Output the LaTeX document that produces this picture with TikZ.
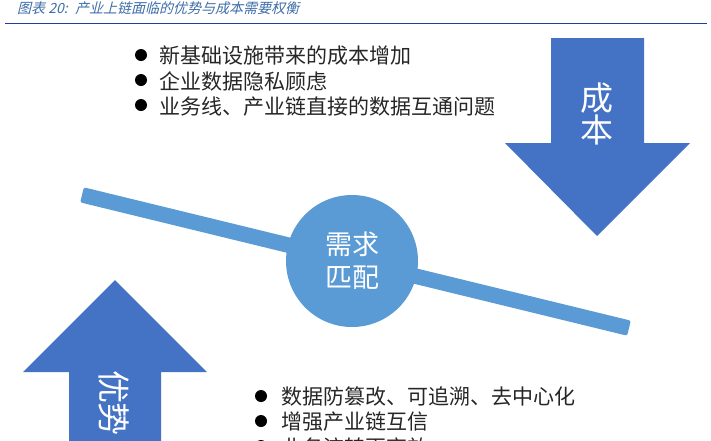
\documentclass[tikz,border=0pt]{standalone}
\usepackage{fontspec}
\setmainfont{Noto Sans CJK SC}
\newfontfamily\slantfont[FakeSlant=0.25]{Noto Sans CJK SC}
\definecolor{arrowblue}{HTML}{4472C4}
\definecolor{beamblue}{HTML}{5B9BD5}
\definecolor{titleblue}{HTML}{3D6DA8}
\definecolor{ruleblue}{HTML}{1F3F9E}
\tikzset{
	bigarrow/.style={fill=arrowblue, draw=none},
	arrowtext/.style={text=white, font=\fontsize{33}{33}\selectfont, inner sep=0pt},
	bullets/.style={anchor=north west, inner sep=0pt, align=left, font=\fontsize{21}{25.5}\selectfont, text=black!85},
	dotmark/.style={circle, fill=black, inner sep=0pt, minimum size=12pt}
}
\begin{document}
\begin{tikzpicture}[x=1pt, y=-1pt]
	%%%%% START %%%%%
	\useasboundingbox (0, 0) rectangle (711, 440);
	\clip (0, 0) rectangle (711, 440);
	
	\node[anchor=west, inner sep=0pt, text=titleblue, font=\slantfont\fontsize{14}{14}\selectfont] (title) at (17, 8.5) {图表 20: \ 产业上链面临的优势与成本需要权衡};
	\draw[line width=1.3pt, color=ruleblue] (5, 23.5) -- (707, 23.5);
	
	\draw[bigarrow] (551, 38) -- (644, 38) -- (644, 143) -- (690, 143) -- (597, 236) -- (505, 143) -- (551, 143) -- cycle;
	\node[arrowtext] (costa) at (597, 98) {成};
	\node[arrowtext] (costb) at (597, 130) {本};
	
	\draw[bigarrow] (115, 280) -- (207, 372) -- (161, 372) -- (161, 445) -- (69, 445) -- (69, 372) -- (23, 372) -- cycle;
	\node[arrowtext, rotate=-90] (gooda) at (114, 387) {优};
	\node[arrowtext, rotate=-90] (goodb) at (114, 419) {势};
	
	\node[rectangle, rounded corners=2pt, fill=beamblue, minimum width=563pt, minimum height=15.5pt, inner sep=0pt, rotate=-13.7] (beam) at (355.5, 261.5) {};
	\node[circle, fill=beamblue, minimum size=132pt, inner sep=0pt] (match) at (352, 261) {};
	\node[text=white, align=center, inner sep=0pt, font=\fontsize{27}{33}\selectfont] (matchtext) at (352, 261) {需求\\匹配};
	
	\node[dotmark] (a1) at (141, 55) {};
	\node[dotmark] (a2) at (141, 80) {};
	\node[dotmark] (a3) at (141, 105) {};
	\node[bullets] (costlist) at (159, 46) {新基础设施带来的成本增加\\企业数据隐私顾虑\\业务线、产业链直接的数据互通问题};
	
	\node[dotmark] (b1) at (261, 396) {};
	\node[dotmark] (b2) at (261, 421) {};
	\node[dotmark] (b3) at (261, 446) {};
	\node[bullets] (goodlist) at (281, 386) {数据防篡改、可追溯、去中心化\\增强产业链互信\\业务流转更高效};
	%%%%% END %%%%%
\end{tikzpicture}
\end{document}
